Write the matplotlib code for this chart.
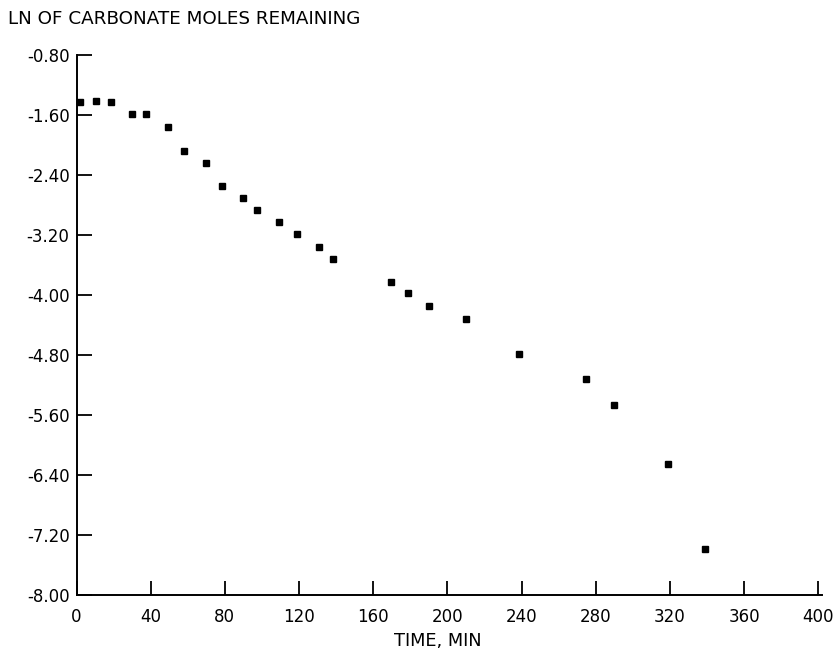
import matplotlib
matplotlib.use("Agg")
import matplotlib.pyplot as plt

plt.rcParams['font.family'] = ['DejaVu Sans']

# Data
time_min = [2, 10.5, 18.6, 30, 37.6, 49.5, 58, 69.6, 78.3, 89.6, 97.5, 109.3,
            118.7, 130.6, 138.1, 169.7, 178.9, 190.2, 210.1, 238.7, 274.5,
            290.1, 318.9, 338.8]
ln_moles = [-1.42, -1.41, -1.42, -1.58, -1.58, -1.76, -2.08, -2.24, -2.55,
            -2.70, -2.86, -3.03, -3.18, -3.36, -3.52, -3.82, -3.97, -4.15,
            -4.32, -4.78, -5.12, -5.46, -6.25, -7.38]

x_ticks = [0, 40, 80, 120, 160, 200, 240, 280, 320, 360, 400]
y_ticks = [-0.80, -1.60, -2.40, -3.20, -4.00, -4.80, -5.60, -6.40, -7.20, -8.00]
y_tick_labels = ["%.2f" % v for v in y_ticks]

fig = plt.figure(figsize=(8.38, 6.51), dpi=100)
ax = fig.add_axes([76.5 / 838, 1 - 595 / 651, (822 - 76.5) / 838, (595 - 55) / 651])

ax.plot(time_min, ln_moles, 's', color='black', markersize=5, clip_on=False)

ax.set_xlim(0, 402)
ax.set_ylim(-8.0, -0.8)
ax.set_xticks(x_ticks)
ax.set_xticklabels([str(v) for v in x_ticks])
ax.set_yticks(y_ticks)
ax.set_yticklabels(y_tick_labels)

for side in ['top', 'right']:
    ax.spines[side].set_visible(False)
for side in ['left', 'bottom']:
    ax.spines[side].set_linewidth(1.4)

ax.tick_params(axis='both', direction='in', width=1.3, labelsize=12)
ax.tick_params(axis='x', length=10, pad=9)
ax.tick_params(axis='y', length=11, pad=5)

fig.text(8 / 838, 1 - 19 / 651, "LN OF CARBONATE MOLES REMAINING",
         ha='left', va='center', fontsize=13.2)
fig.text(438 / 838, 1 - 641 / 651, "TIME, MIN", ha='center', va='center',
         fontsize=12.8)

fig.savefig("out.png", dpi=100)
